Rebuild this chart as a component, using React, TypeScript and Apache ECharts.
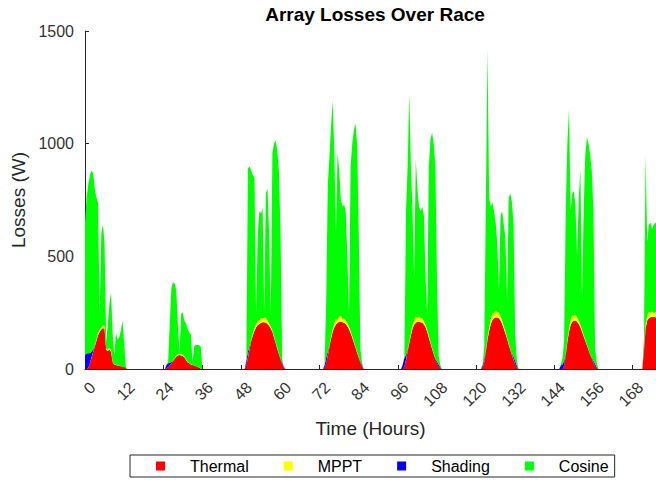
import React, { useEffect, useRef } from "react";
import * as echarts from "echarts";

// Each day's samples start at dayStartHours[d] and are spaced sampleStepHours apart.
const dayStartHours = [0, 24.5, 48.5, 72.5, 97, 121.5, 145.5, 171];
const sampleStepHours = 0.5;

const thermalByDay = [
  [0, 0, 5, 25, 50, 75, 100, 125, 150, 165, 175, 182, 178, 85, 80, 88, 75, 30, 20, 18, 16, 15, 12, 10, 8, 3, 0],
  [0, 3, 8, 15, 25, 35, 45, 55, 60, 62, 60, 58, 52, 40, 30, 25, 20, 18, 15, 12, 10, 6, 2, 0],
  [0, 0, 15, 50, 90, 125, 150, 170, 185, 195, 200, 205, 207, 207, 205, 200, 192, 180, 165, 140, 115, 90, 65, 42, 20, 6, 0],
  [0, 0, 5, 25, 60, 100, 135, 165, 185, 198, 205, 210, 210, 207, 205, 200, 190, 178, 160, 140, 118, 95, 72, 50, 28, 10, 0],
  [0, 0, 10, 40, 80, 115, 150, 180, 198, 205, 210, 210, 208, 205, 198, 185, 165, 140, 115, 90, 65, 45, 25, 10, 3, 0],
  [0, 5, 30, 80, 130, 170, 200, 218, 225, 228, 228, 225, 215, 200, 180, 158, 135, 110, 85, 62, 40, 20, 6, 0],
  [0, 0, 0, 15, 60, 120, 165, 195, 210, 215, 215, 210, 200, 185, 165, 145, 125, 105, 85, 65, 45, 28, 12, 4, 0],
  [0, 80, 180, 215, 225, 230, 232, 232, 230, 228, 225],
];

const mpptByDay = [
  [0, 0, 0, 1, 2, 3, 4, 5, 7, 9, 10, 12, 12, 5, 5, 8, 6, 2, 1, 1, 1, 1, 1, 0, 0, 0, 0],
  [0, 0, 0, 1, 1, 2, 3, 4, 5, 6, 5, 5, 4, 3, 2, 1, 1, 1, 1, 0, 0, 0, 0, 0],
  [0, 0, 1, 3, 5, 7, 9, 12, 14, 18, 15, 22, 16, 20, 24, 14, 10, 8, 6, 5, 4, 3, 2, 1, 0, 0, 0],
  [0, 0, 0, 1, 3, 5, 8, 12, 18, 24, 16, 22, 26, 15, 20, 18, 12, 9, 7, 6, 5, 4, 3, 2, 1, 0, 0],
  [0, 0, 0, 2, 4, 6, 9, 14, 20, 26, 18, 24, 16, 20, 14, 10, 8, 6, 5, 4, 3, 2, 1, 0, 0, 0],
  [0, 0, 2, 5, 9, 14, 20, 28, 22, 30, 24, 26, 18, 14, 10, 8, 6, 5, 4, 3, 2, 1, 0, 0],
  [0, 0, 0, 0, 3, 8, 14, 22, 30, 20, 26, 18, 14, 10, 8, 6, 5, 4, 3, 2, 1, 1, 0, 0, 0],
  [0, 5, 14, 22, 28, 20, 24, 18, 22, 20, 20],
];

const shadingByDay = [
  [60, 70, 65, 45, 25, 10, 3, 0, 0, 0, 0, 0, 0, 0, 0, 0, 0, 0, 0, 0, 0, 0, 0, 0, 0, 0, 0],
  [0, 15, 18, 12, 5, 0, 0, 0, 0, 0, 0, 0, 0, 0, 0, 0, 0, 0, 0, 0, 0, 0, 0, 0],
  [0, 0, 20, 25, 10, 3, 0, 0, 0, 0, 0, 0, 0, 0, 0, 0, 0, 0, 0, 0, 0, 0, 0, 5, 8, 4, 0],
  [0, 0, 10, 25, 15, 5, 0, 0, 0, 0, 0, 0, 0, 0, 0, 0, 0, 0, 0, 0, 0, 0, 0, 0, 5, 8, 0],
  [0, 20, 40, 20, 5, 0, 0, 0, 0, 0, 0, 0, 0, 0, 0, 0, 0, 0, 0, 0, 0, 0, 8, 10, 5, 0],
  [0, 10, 15, 5, 0, 0, 0, 0, 0, 0, 0, 0, 0, 0, 0, 0, 0, 0, 0, 5, 12, 15, 8, 0],
  [0, 15, 20, 20, 8, 0, 0, 0, 0, 0, 0, 0, 0, 0, 0, 0, 0, 0, 0, 0, 4, 8, 10, 5, 0],
  [0, 15, 5, 0, 0, 0, 0, 0, 0, 0, 0],
];

const cosineByDay = [
  [590, 690, 750, 789, 803, 782, 693, 630, 583, 76, 415, 446, 370, 30, 115, 194, 259, 118, 39, 141, 113, 124, 157, 205, 112, 7, 0],
  [0, 2, 4, 172, 329, 348, 332, 291, 135, 2, 180, 187, 159, 157, 148, 134, 134, 11, 84, 96, 98, 99, 98, 0],
  [0, 0, 4, 812, 795, 745, 701, 668, 41, 387, 485, 463, 492, 23, 551, 586, 398, 52, 789, 855, 896, 877, 813, 552, 15, 0, 0],
  [0, 0, 0, 249, 742, 830, 937, 1013, 757, 378, 739, 648, 514, 498, 505, 482, 298, 53, 733, 854, 937, 991, 925, 548, 56, 12, 0],
  [0, 0, 10, 638, 811, 1099, 741, 506, 182, 699, 572, 486, 476, 495, 468, 205, 67, 754, 900, 956, 932, 853, 366, 40, 12, 0],
  [0, 5, 53, 660, 1281, 576, 500, 494, 453, 392, 308, 99, 447, 486, 450, 414, 159, 645, 691, 670, 586, 114, 26, 0],
  [0, 5, 30, 85, 629, 872, 971, 483, 540, 555, 479, 272, 546, 685, 127, 549, 820, 921, 912, 883, 830, 663, 78, 21, 0],
  [0, 30, 751, 323, 387, 400, 364, 390, 398, 392, 375],
];

const seriesNames = ["Thermal", "MPPT", "Shading", "Cosine"];
const seriesColors = ["#ff0000", "#ffff00", "#0000ff", "#00ff00"];
const seriesByDay = [thermalByDay, mpptByDay, shadingByDay, cosineByDay];

const xTickValues = [0, 12, 24, 36, 48, 60, 72, 84, 96, 108, 120, 132, 144, 156, 168];
const xMaxHours = 175.2;
const yTickValues = [0, 500, 1000, 1500];

const FONT = "'Liberation Sans', Arial, Helvetica, sans-serif";

// rows are [loss, hour] so that the loss (y) is the first, stacked, dimension
function toRows(byDay: number[][]): [number, number][] {
  const out: [number, number][] = [];
  byDay.forEach((vals, d) => {
    vals.forEach((v, i) => {
      out.push([v, dayStartHours[d] + i * sampleStepHours]);
    });
  });
  return out;
}

export default function App() {
  const ref = useRef<HTMLDivElement>(null);
  useEffect(() => {
    if (!ref.current) return;
    const chart = echarts.init(ref.current, undefined, { renderer: "svg" });
    const option: any = {
      animation: false,
      backgroundColor: "#ffffff",
      title: {
        text: "Array Losses Over Race",
        left: 370,
        top: 0,
        textAlign: "center",
        textStyle: { fontFamily: FONT, fontWeight: "bold", fontSize: 19, color: "#000000" },
      },
      legend: {
        orient: "horizontal",
        left: 130,
        top: 455,
        padding: [3, 6, 3, 26],
        itemWidth: 9,
        itemHeight: 9,
        itemGap: 35,
        icon: "rect",
        selectedMode: false,
        borderColor: "#262626",
        borderWidth: 1,
        backgroundColor: "#ffffff",
        itemStyle: { borderWidth: 0 },
        textStyle: { fontFamily: FONT, fontSize: 16, color: "#000000", padding: [0, 0, 0, 20] },
        data: seriesNames,
      },
      grid: { left: 85, right: 0, top: 31, bottom: 113, containLabel: false, outerBoundsMode: "none" },
      xAxis: {
        type: "value",
        min: 0,
        max: xMaxHours,
        interval: 12,
        name: "Time (Hours)",
        nameLocation: "middle",
        nameGap: 50,
        nameTextStyle: { fontFamily: FONT, fontSize: 19, color: "#262626" },
        axisLine: { show: true, onZero: false, lineStyle: { color: "#262626", width: 1 } },
        axisTick: { show: true, inside: true, length: 4, customValues: xTickValues, lineStyle: { color: "#262626" } },
        axisLabel: {
          show: true,
          rotate: 45,
          margin: 8,
          verticalAlign: "top",
          padding: [3, 0, 0, 0],
          fontFamily: FONT,
          fontSize: 16,
          color: "#333333",
          customValues: xTickValues,
          formatter: (v: number) => String(v),
        },
        splitLine: { show: false },
      },
      yAxis: {
        type: "value",
        min: 0,
        max: 1500,
        interval: 500,
        name: "Losses (W)",
        nameLocation: "middle",
        nameGap: 52,
        nameTextStyle: { fontFamily: FONT, fontSize: 19, color: "#262626" },
        axisLine: { show: true, lineStyle: { color: "#262626", width: 1 } },
        axisTick: { show: true, inside: true, length: 4, customValues: yTickValues, lineStyle: { color: "#262626" } },
        axisLabel: {
          show: true,
          margin: 11,
          fontFamily: FONT,
          fontSize: 16,
          color: "#333333",
          customValues: yTickValues,
          formatter: (v: number) => String(v),
        },
        splitLine: { show: false },
      },
      series: seriesNames.map((name, k) => ({
        name,
        type: "line",
        stack: "losses",
        color: seriesColors[k],
        symbol: "none",
        showSymbol: false,
        lineStyle: { width: 0 },
        areaStyle: { color: seriesColors[k], opacity: 1 },
        itemStyle: { color: seriesColors[k] },
        clip: true,
        dimensions: ["loss", "hour"],
        encode: { x: "hour", y: "loss" },
        data: toRows(seriesByDay[k]),
      })),
    };
    chart.setOption(option);
    return () => chart.dispose();
  }, []);
  return (
    <div
      ref={ref}
      style={{ position: "absolute", left: 0, top: 0, width: 656, height: 482, background: "#fff" }}
    />
  );
}
